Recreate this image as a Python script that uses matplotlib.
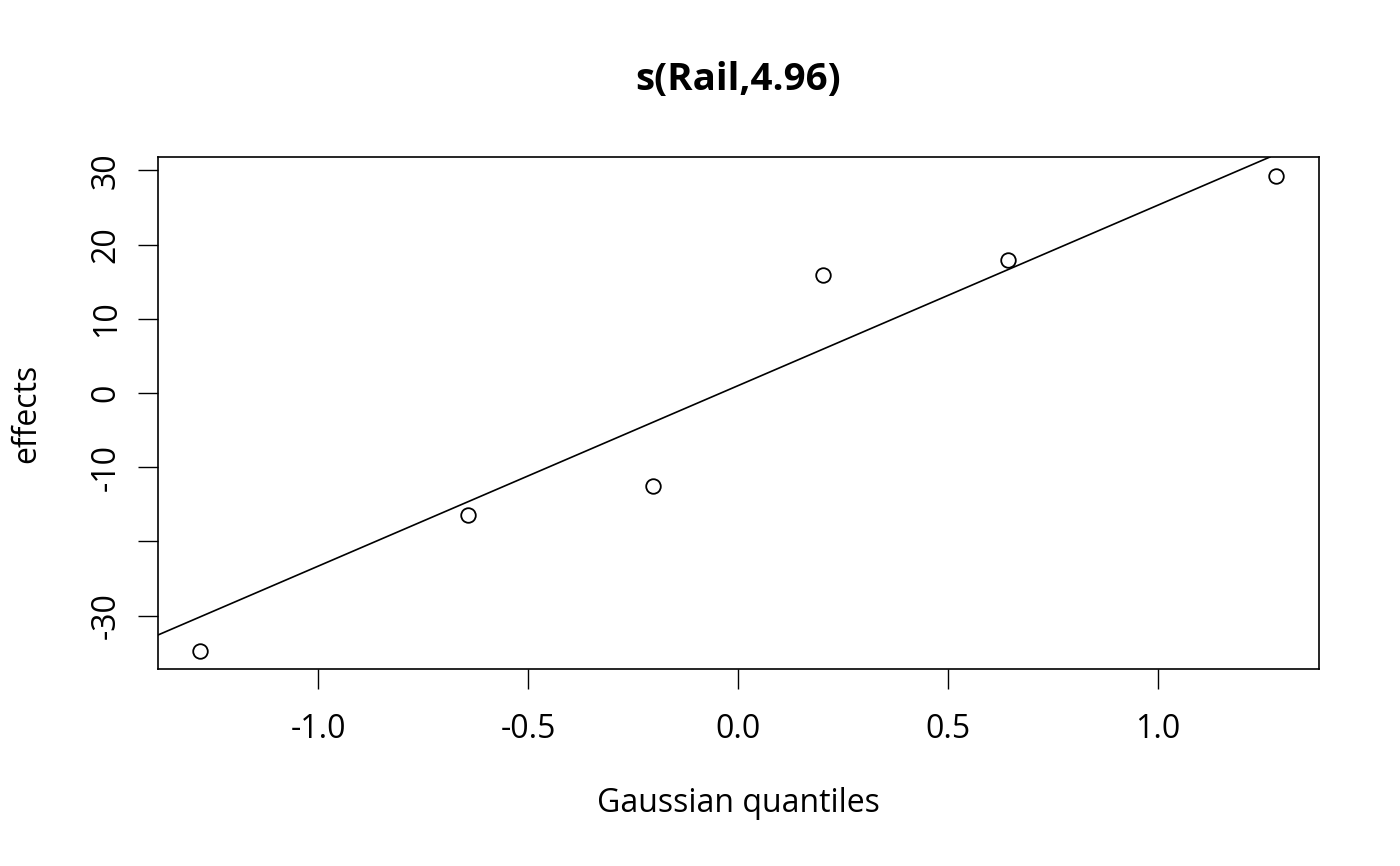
import numpy as np
import matplotlib
matplotlib.use("Agg")
import matplotlib.pyplot as plt

plt.rcParams['font.family'] = ['Open Sans', 'DejaVu Sans']

# Data
quantiles = [-1.2816, -0.6433, -0.2019, 0.2019, 0.6433, 1.2816]
effects = [-34.8, -16.4, -12.5, 15.9, 17.9, 29.2]
xticks = [-1.0, -0.5, 0.0, 0.5, 1.0]
xticklabels = ["-1.0", "-0.5", "0.0", "0.5", "1.0"]
yticks = [-30, -20, -10, 0, 10, 20, 30]
yticklabels = ["-30", "", "-10", "0", "10", "20", "30"]
title = "s(Rail,4.96)"

fig = plt.figure(figsize=(14, 8.66), dpi=100)
ax = fig.add_axes([158/1400, 1-669/866, (1319-158)/1400, (669-157)/866])

ax.plot(quantiles, effects, linestyle='none', marker='o', markersize=10.5,
        markerfacecolor='none', markeredgecolor='black', markeredgewidth=1.3)

# qqline through quartiles
y = np.array(effects)
q1, q3 = np.quantile(y, [0.25, 0.75])
z1, z3 = -0.6744898, 0.6744898
slope = (q3 - q1) / (z3 - z1)
intercept = q1 - slope * z1
ax.axline((0, intercept), slope=slope, color='black', linewidth=1.2)

ax.set_xlim(-1.381, 1.383)
ax.set_ylim(-37.2, 31.8)
ax.set_xticks(xticks)
ax.set_xticklabels(xticklabels)
ax.set_yticks(yticks)
ax.set_yticklabels(yticklabels, rotation=90, va='center')
ax.tick_params(axis='both', direction='out', length=14.4, width=1, labelsize=23)
ax.tick_params(axis='x', pad=17)
ax.tick_params(axis='y', pad=11)
for s in ax.spines.values():
    s.set_linewidth(1.2)

fig.text(738/1400, 1-803/866, "Gaussian quantiles", ha='center', va='center', fontsize=23)
fig.text(27/1400, 1-413/866, "effects", ha='center', va='center', fontsize=23, rotation=90)
fig.text(738/1400, 1-80/866, title, ha='center', va='center', fontsize=27.7, fontweight='bold')

fig.savefig("out.png", dpi=100)
